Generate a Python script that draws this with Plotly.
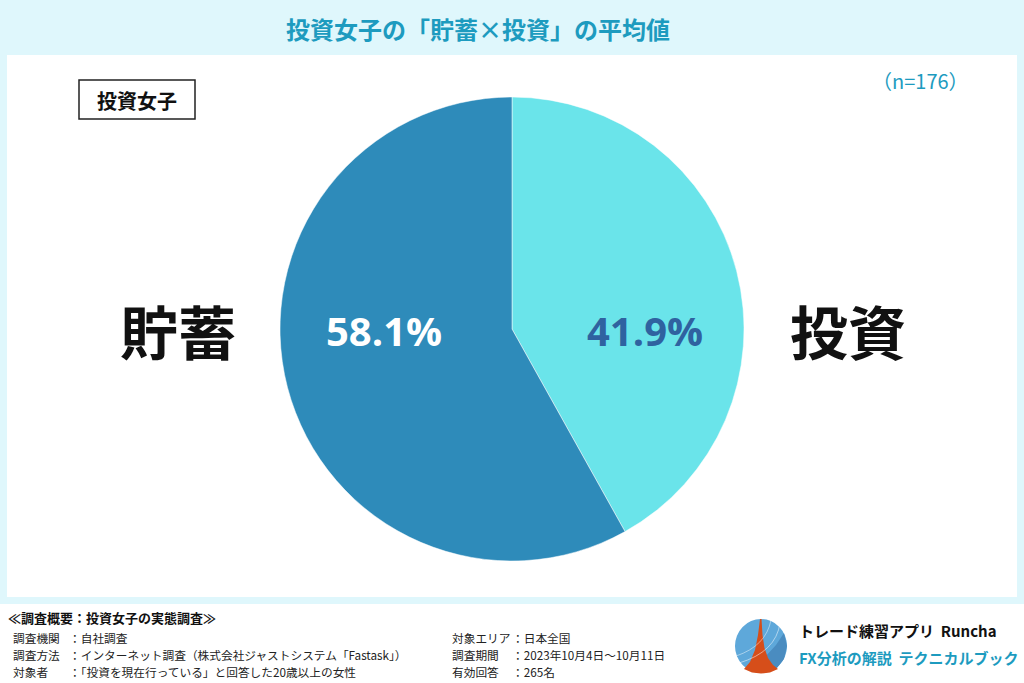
import plotly.graph_objects as go

W, H = 1024, 683

labels = ["投資", "貯蓄"]
values = [41.9, 58.1]
slice_colors = ["#6ae4ea", "#2e8bba"]
text_colors = ["#2f62a0", "#ffffff"]

title_text = "投資女子の「貯蓄×投資」の平均値"
group_label = "投資女子"
n_label = "（n=176）"

survey_title = "≪調査概要：投資女子の実態調査≫"
left_keys = ["調査機関", "調査方法", "対象者"]
left_vals = ["：自社調査",
             "：インターネット調査（株式会社ジャストシステム「Fastask」）",
             "：「投資を現在行っている」と回答した20歳以上の女性"]
right_keys = ["対象エリア", "調査期間", "有効回答"]
right_vals = ["：日本全国", "：2023年10月4日～10月11日", "：265名"]

brand1 = "トレード練習アプリ  Runcha"
brand2 = "FX分析の解説  テクニカルブック"

FONT = "Noto Sans CJK JP"

def px(x):
    return x / W

def py(y):
    return 1 - y / H

cx, cy, r = 512, 329, 232

fig = go.Figure()
fig.add_trace(go.Pie(
    labels=labels,
    values=values,
    sort=False,
    direction="clockwise",
    rotation=0,
    marker=dict(colors=slice_colors, line=dict(color="#ffffff", width=0.5)),
    textinfo="none",
    hoverinfo="label+value",
    showlegend=False,
    domain=dict(x=[px(cx - r), px(cx + r)], y=[py(cy + r), py(cy - r)]),
))

shapes = [
    dict(type="rect", xref="paper", yref="paper", x0=px(7), x1=px(1017), y0=py(597), y1=py(55),
         fillcolor="#ffffff", line=dict(width=0), layer="below"),
    dict(type="rect", xref="paper", yref="paper", x0=0, x1=1, y0=0, y1=py(604),
         fillcolor="#ffffff", line=dict(width=0), layer="below"),
    dict(type="rect", xref="paper", yref="paper", x0=px(79), x1=px(195), y0=py(119), y1=py(80),
         fillcolor="rgba(0,0,0,0)", line=dict(color="#222222", width=1.5)),
    dict(type="circle", xref="paper", yref="paper", x0=px(735), x1=px(787), y0=py(673), y1=py(619),
         fillcolor="#5ea8da", line=dict(width=0)),
]

def path(points):
    s = ""
    for i, (x, y) in enumerate(points):
        s += ("M" if i == 0 else "L") + f"{px(x):.5f},{py(y):.5f} "
    return s + "Z"

shapes.append(dict(type="path", xref="paper", yref="paper",
                   path=path([(784, 633), (787, 646), (784, 659), (777, 668), (769, 672), (765, 657), (776, 645)]),
                   fillcolor="#4a8cc0", line=dict(width=0)))
shapes.append(dict(type="path", xref="paper", yref="paper",
                   path=path([(760, 619), (761.5, 619), (762.5, 635), (764.5, 648), (768, 658), (773, 665), (778, 669),
                              (770, 672.5), (761, 673.5), (752, 672.5), (744, 669), (750, 662), (755, 650), (758, 635)]),
                   fillcolor="#d64e1a", line=dict(width=0)))
shapes.append(dict(type="path", xref="paper", yref="paper",
                   path=f"M{px(739):.5f},{py(663):.5f} Q{px(776):.5f},{py(652):.5f} {px(780):.5f},{py(623):.5f}",
                   line=dict(color="rgba(255,255,255,0.5)", width=1)))
shapes.append(dict(type="path", xref="paper", yref="paper",
                   path=f"M{px(736):.5f},{py(656):.5f} Q{px(766):.5f},{py(646):.5f} {px(771):.5f},{py(620):.5f}",
                   line=dict(color="rgba(255,255,255,0.45)", width=1)))

ann = []
ann.append(dict(text=f"<b>{title_text}</b>", x=px(478), y=py(28), xanchor="center", yanchor="middle",
                font=dict(family=FONT, size=24, color="#1d9bbf")))
ann.append(dict(text=f"<b>{group_label}</b>", x=px(137), y=py(100), xanchor="center", yanchor="middle",
                font=dict(family=FONT, size=20, color="#111111")))
ann.append(dict(text=n_label, x=px(920), y=py(80), xanchor="center", yanchor="middle",
                font=dict(family=FONT, size=20, color="#1d9bbf")))
# percent labels, text from the data
label_x = [645, 384]
for v, c, lx in zip(values, text_colors, label_x):
    ann.append(dict(text=f"<b>{v:.1f}%</b>", x=px(lx), y=py(330), xanchor="center", yanchor="middle",
                    font=dict(family="Open Sans", size=40, color=c)))
# outside big labels
ann.append(dict(text=f"<b>{labels[1]}</b>", x=px(178), y=py(330), xanchor="center", yanchor="middle",
                font=dict(family=FONT, size=58, color="#111111")))
ann.append(dict(text=f"<b>{labels[0]}</b>", x=px(848), y=py(330), xanchor="center", yanchor="middle",
                font=dict(family=FONT, size=58, color="#111111")))
# footer
ann.append(dict(text=f"<b>{survey_title}</b>", x=px(7), y=py(617), xanchor="left", yanchor="middle",
                borderpad=0, font=dict(family=FONT, size=13, color="#111111")))
rows_y = [637, 654, 671]
fsz = 11.7
for k, v, yy in zip(left_keys, left_vals, rows_y):
    ann.append(dict(text=k, x=px(12), y=py(yy), xanchor="left", yanchor="middle", borderpad=0,
                    font=dict(family=FONT, size=fsz, color="#222222")))
    ann.append(dict(text=v, x=px(68), y=py(yy), xanchor="left", yanchor="middle", borderpad=0,
                    font=dict(family=FONT, size=fsz, color="#222222")))
for k, v, yy in zip(right_keys, right_vals, rows_y):
    ann.append(dict(text=k, x=px(451), y=py(yy), xanchor="left", yanchor="middle", borderpad=0,
                    font=dict(family=FONT, size=fsz, color="#222222")))
    ann.append(dict(text=v, x=px(511), y=py(yy), xanchor="left", yanchor="middle", borderpad=0,
                    font=dict(family=FONT, size=fsz, color="#222222")))
ann.append(dict(text=f"<b>{brand1}</b>", x=px(797), y=py(630), xanchor="left", yanchor="middle",
                font=dict(family=FONT, size=15, color="#111111")))
ann.append(dict(text=f"<b>{brand2}</b>", x=px(797), y=py(657), xanchor="left", yanchor="middle",
                font=dict(family=FONT, size=15, color="#1d9bbf")))

for a in ann:
    a.update(xref="paper", yref="paper", showarrow=False)

fig.update_layout(
    width=W, height=H,
    margin=dict(l=0, r=0, t=0, b=0),
    paper_bgcolor="#dff7fc",
    plot_bgcolor="#dff7fc",
    shapes=shapes,
    annotations=ann,
)

fig.write_html("out.html")
